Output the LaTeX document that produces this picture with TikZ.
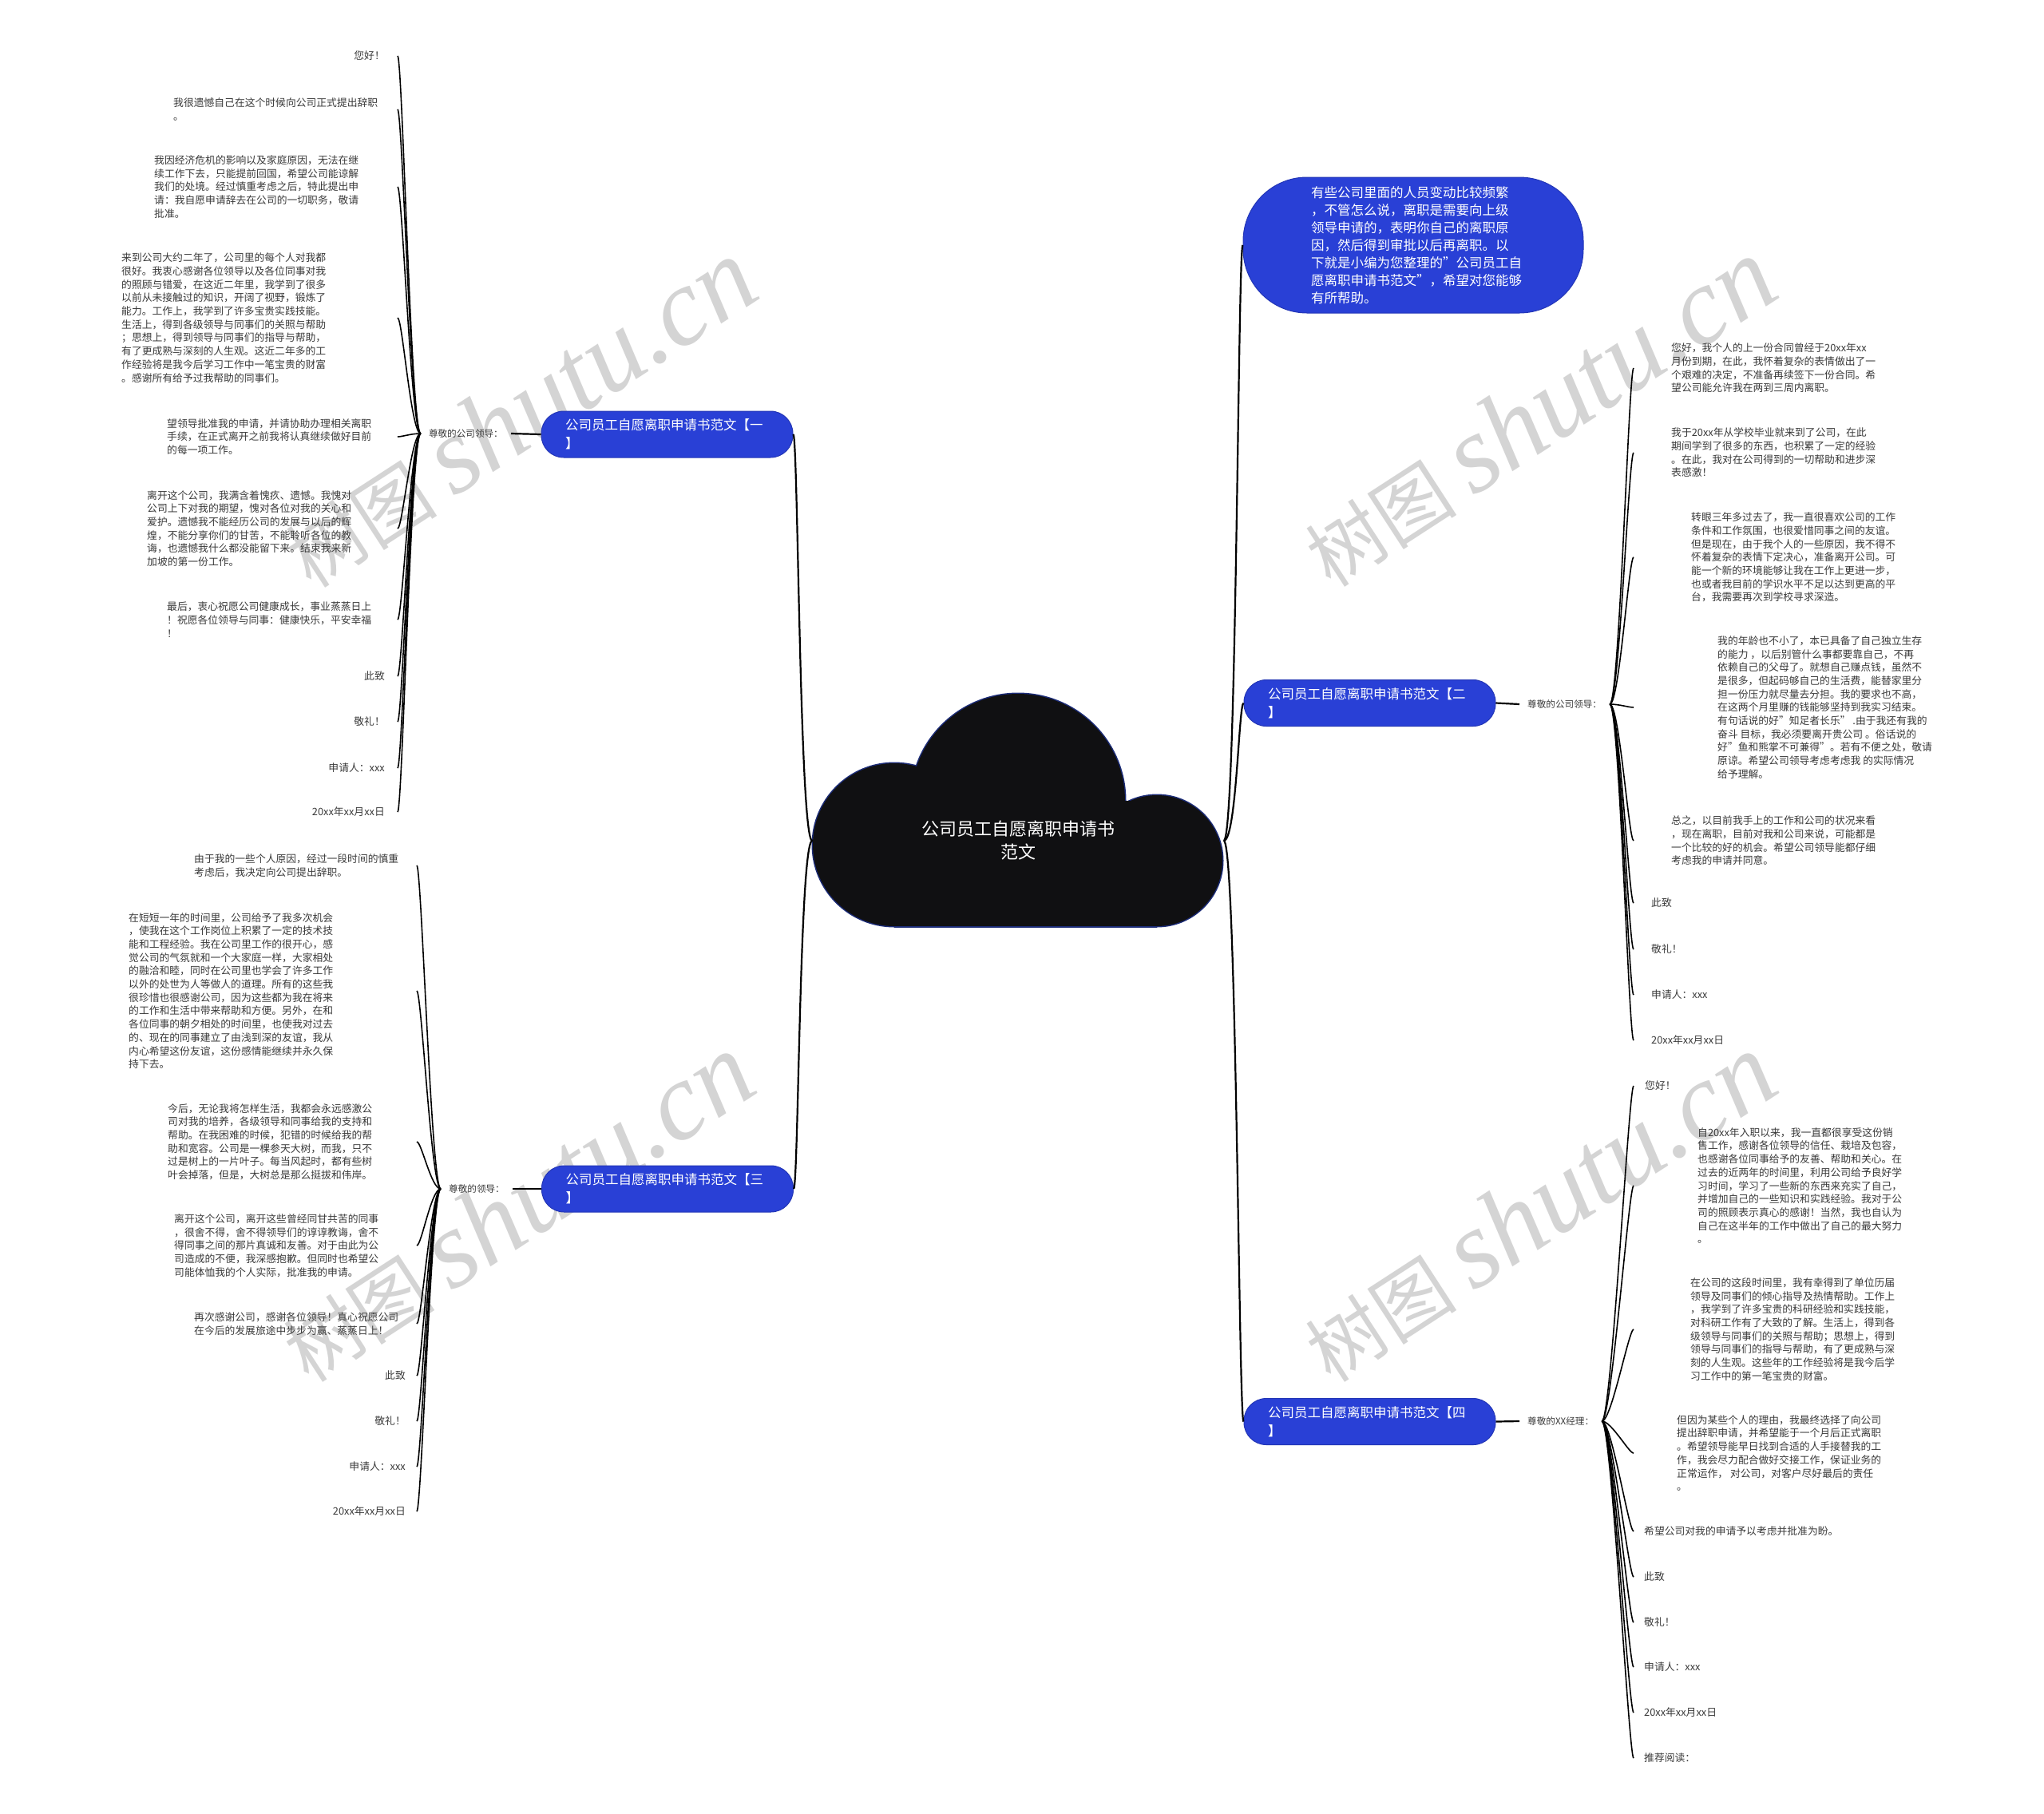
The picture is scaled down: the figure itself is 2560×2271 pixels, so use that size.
\documentclass[tikz,border=0pt]{standalone}
\usepackage{fontspec}
\setmainfont{Noto Sans CJK SC}
\newfontfamily\marklatin{Liberation Serif}
\usetikzlibrary{calc}
\definecolor{pillblue}{HTML}{2940D6}
\definecolor{cloudblack}{HTML}{101012}
\definecolor{cloudedge}{HTML}{1C2C78}
\definecolor{leafgray}{HTML}{3A3A3A}
\definecolor{markgray}{HTML}{D4D4D4}

\begin{document}
\begin{tikzpicture}[x=1pt,y=-1pt,
  pill/.style={rounded corners=28pt, fill=pillblue, draw=pillblue!85!black, line width=1pt, text=white, minimum width=315pt, minimum height=58pt, text width=255pt, inner xsep=30pt, align=left, font=\fontsize{16.5}{23}\selectfont},
  bubble/.style={pill, rounded corners=80pt, minimum width=426pt, minimum height=170pt, text width=256pt, inner xsep=85pt, font=\fontsize{16.5}{22}\selectfont},
  leaf/.style={anchor=west, inner sep=0pt, align=left, text=leafgray, font=\fontsize{12.8}{16.7}\selectfont},
  tag/.style={inner xsep=10pt, inner ysep=2pt, text=leafgray, font=\fontsize{11.6}{14}\selectfont},
  trunk/.style={line width=2.2pt},
  link/.style={line width=1.6pt},
  wmark/.style={text=markgray, rotate=33, inner sep=0pt}]
\useasboundingbox (0,0) rectangle (2560,2271);
\fill[white] (0,0) rectangle (2560,2271);

% watermarks
\node[wmark] (wm1) at (650,518) {\fontsize{95}{95}\selectfont 树图 {\marklatin\itshape\fontsize{138}{138}\selectfont shutu.cn}};
\node[wmark] (wm2) at (1927,517) {\fontsize{95}{95}\selectfont 树图 {\marklatin\itshape\fontsize{138}{138}\selectfont shutu.cn}};
\node[wmark] (wm3) at (647,1513) {\fontsize{95}{95}\selectfont 树图 {\marklatin\itshape\fontsize{138}{138}\selectfont shutu.cn}};
\node[wmark] (wm4) at (1927,1513) {\fontsize{95}{95}\selectfont 树图 {\marklatin\itshape\fontsize{138}{138}\selectfont shutu.cn}};

% cloud
\fill[cloudedge] (1275,1003) circle (135.5pt);
\fill[cloudedge] (1120,1058) circle (103.5pt);
\fill[cloudedge] (1449,1078) circle (83.5pt);
\fill[cloudedge] (1120,1003) rectangle (1449,1161.5);
\fill[cloudblack] (1275,1003) circle (134pt);
\fill[cloudblack] (1120,1058) circle (102pt);
\fill[cloudblack] (1449,1078) circle (82pt);
\fill[cloudblack] (1120,1003) rectangle (1449,1160);
\node[text=white, minimum width=515pt, align=center, font=\fontsize{22}{29}\selectfont] (root) at (1275,1053) {公司员工自愿离职申请书\\范文};

% branches
\node[bubble] (intro) at (1770,307) {有些公司里面的人员变动比较频繁\\，不管怎么说，离职是需要向上级\\领导申请的，表明你自己的离职原\\因，然后得到审批以后再离职。以\\下就是小编为您整理的"公司员工自\\愿离职申请书范文"，希望对您能够\\有所帮助。};
\node[pill] (b1) at (835.5,544) {公司员工自愿离职申请书范文【一\\】};
\node[pill] (b3) at (836,1489) {公司员工自愿离职申请书范文【三\\】};
\node[pill] (b2) at (1715.5,880.5) {公司员工自愿离职申请书范文【二\\】};
\node[pill] (b4) at (1715.5,1780.5) {公司员工自愿离职申请书范文【四\\】};

\node[tag, anchor=east] (t1) at (640,543) {尊敬的公司领导：};
\node[tag, anchor=east] (t3) at (642,1489) {尊敬的领导：};
\node[tag, anchor=west] (t2) at (1903,882) {尊敬的公司领导：};
\node[tag, anchor=west] (t4) at (1903,1780) {尊敬的XX经理：};

\coordinate (bar1) at (498,0);
\coordinate (bar3) at (522,0);
\coordinate (bar2) at (2046,0);
\coordinate (bar4) at (2046,0);

% letter one
\node[leaf, anchor=east] (l1a) at (482,70) {您好！};
\node[leaf] (l1b) at (217,137) {我很遗憾自己在这个时候向公司正式提出辞职\\。};
\node[leaf] (l1c) at (193,234) {我因经济危机的影响以及家庭原因，无法在继\\续工作下去，只能提前回国，希望公司能谅解\\我们的处境。经过慎重考虑之后，特此提出申\\请：我自愿申请辞去在公司的一切职务，敬请\\批准。};
\node[leaf] (l1d) at (152,398) {来到公司大约二年了，公司里的每个人对我都\\很好。我衷心感谢各位领导以及各位同事对我\\的照顾与错爱，在这近二年里，我学到了很多\\以前从未接触过的知识，开阔了视野，锻炼了\\能力。工作上，我学到了许多宝贵实践技能。\\生活上，得到各级领导与同事们的关照与帮助\\；思想上，得到领导与同事们的指导与帮助，\\有了更成熟与深刻的人生观。这近二年多的工\\作经验将是我今后学习工作中一笔宝贵的财富\\。感谢所有给予过我帮助的同事们。};
\node[leaf] (l1e) at (209,547) {望领导批准我的申请，并请协助办理相关离职\\手续，在正式离开之前我将认真继续做好目前\\的每一项工作。};
\node[leaf] (l1f) at (184,662) {离开这个公司，我满含着愧疚、遗憾。我愧对\\公司上下对我的期望，愧对各位对我的关心和\\爱护。遗憾我不能经历公司的发展与以后的辉\\煌，不能分享你们的甘苦，不能聆听各位的教\\诲，也遗憾我什么都没能留下来。结束我来新\\加坡的第一份工作。};
\node[leaf] (l1g) at (209,776) {最后，衷心祝愿公司健康成长，事业蒸蒸日上\\！祝愿各位领导与同事：健康快乐，平安幸福\\！};
\node[leaf, anchor=east] (l1h) at (482,847) {此致};
\node[leaf, anchor=east] (l1i) at (482,904) {敬礼！};
\node[leaf, anchor=east] (l1j) at (482,962) {申请人：xxx};
\node[leaf, anchor=east] (l1k) at (482,1017) {20xx年xx月xx日};

% letter three
\node[leaf] (l3a) at (243,1084) {由于我的一些个人原因，经过一段时间的慎重\\考虑后，我决定向公司提出辞职。};
\node[leaf] (l3b) at (161,1241) {在短短一年的时间里，公司给予了我多次机会\\，使我在这个工作岗位上积累了一定的技术技\\能和工程经验。我在公司里工作的很开心，感\\觉公司的气氛就和一个大家庭一样，大家相处\\的融洽和睦，同时在公司里也学会了许多工作\\以外的处世为人等做人的道理。所有的这些我\\很珍惜也很感谢公司，因为这些都为我在将来\\的工作和生活中带来帮助和方便。另外，在和\\各位同事的朝夕相处的时间里，也使我对过去\\的、现在的同事建立了由浅到深的友谊，我从\\内心希望这份友谊，这份感情能继续并永久保\\持下去。};
\node[leaf] (l3c) at (210,1430) {今后，无论我将怎样生活，我都会永远感激公\\司对我的培养，各级领导和同事给我的支持和\\帮助。在我困难的时候，犯错的时候给我的帮\\助和宽容。公司是一棵参天大树，而我，只不\\过是树上的一片叶子。每当风起时，都有些树\\叶会掉落，但是，大树总是那么挺拔和伟岸。};
\node[leaf] (l3d) at (218,1560) {离开这个公司，离开这些曾经同甘共苦的同事\\，很舍不得，舍不得领导们的谆谆教诲，舍不\\得同事之间的那片真诚和友善。对于由此为公\\司造成的不便，我深感抱歉。但同时也希望公\\司能体恤我的个人实际，批准我的申请。};
\node[leaf] (l3e) at (243,1658) {再次感谢公司，感谢各位领导！真心祝愿公司\\在今后的发展旅途中步步为赢、蒸蒸日上！};
\node[leaf, anchor=east] (l3f) at (508,1723) {此致};
\node[leaf, anchor=east] (l3g) at (508,1780) {敬礼！};
\node[leaf, anchor=east] (l3h) at (508,1837) {申请人：xxx};
\node[leaf, anchor=east] (l3i) at (508,1893) {20xx年xx月xx日};

% letter two
\node[leaf] (r2a) at (2093,461) {您好，我个人的上一份合同曾经于20xx年xx\\月份到期，在此，我怀着复杂的表情做出了一\\个艰难的决定，不准备再续签下一份合同。希\\望公司能允许我在两到三周内离职。};
\node[leaf] (r2b) at (2093,567) {我于20xx年从学校毕业就来到了公司，在此\\期间学到了很多的东西，也积累了一定的经验\\。在此，我对在公司得到的一切帮助和进步深\\表感激！};
\node[leaf] (r2c) at (2118,698) {转眼三年多过去了，我一直很喜欢公司的工作\\条件和工作氛围，也很爱惜同事之间的友谊。\\但是现在，由于我个人的一些原因，我不得不\\怀着复杂的表情下定决心，准备离开公司。可\\能一个新的环境能够让我在工作上更进一步，\\也或者我目前的学识水平不足以达到更高的平\\台，我需要再次到学校寻求深造。};
\node[leaf] (r2d) at (2151,886) {我的年龄也不小了，本已具备了自己独立生存\\的能力 ，以后别管什么事都要靠自己，不再\\依赖自己的父母了。就想自己赚点钱，虽然不\\是很多，但起码够自己的生活费，能替家里分\\担一份压力就尽量去分担。我的要求也不高，\\在这两个月里赚的钱能够坚持到我实习结束。\\有句话说的好"知足者长乐" .由于我还有我的\\奋斗 目标，我必须要离开贵公司 。俗话说的\\好"鱼和熊掌不可兼得"。若有不便之处，敬请\\原谅。希望公司领导考虑考虑我 的实际情况\\给予理解。};
\node[leaf] (r2e) at (2093,1053) {总之，以目前我手上的工作和公司的状况来看\\，现在离职，目前对我和公司来说，可能都是\\一个比较的好的机会。希望公司领导能都仔细\\考虑我的申请并同意。};
\node[leaf] (r2f) at (2068,1131) {此致};
\node[leaf] (r2g) at (2068,1189) {敬礼！};
\node[leaf] (r2h) at (2068,1246) {申请人：xxx};
\node[leaf] (r2i) at (2068,1303) {20xx年xx月xx日};

% letter four
\node[leaf] (r4a) at (2060,1360) {您好！};
\node[leaf] (r4b) at (2126,1485) {自20xx年入职以来，我一直都很享受这份销\\售工作，感谢各位领导的信任、栽培及包容，\\也感谢各位同事给予的友善、帮助和关心。在\\过去的近两年的时间里，利用公司给予良好学\\习时间，学习了一些新的东西来充实了自己，\\并增加自己的一些知识和实践经验。我对于公\\司的照顾表示真心的感谢！当然，我也自认为\\自己在这半年的工作中做出了自己的最大努力\\。};
\node[leaf] (r4c) at (2117,1665) {在公司的这段时间里，我有幸得到了单位历届\\领导及同事们的倾心指导及热情帮助。工作上\\，我学到了许多宝贵的科研经验和实践技能，\\对科研工作有了大致的了解。生活上，得到各\\级领导与同事们的关照与帮助；思想上，得到\\领导与同事们的指导与帮助，有了更成熟与深\\刻的人生观。这些年的工作经验将是我今后学\\习工作中的第一笔宝贵的财富。};
\node[leaf] (r4d) at (2100,1820) {但因为某些个人的理由，我最终选择了向公司\\提出辞职申请，并希望能于一个月后正式离职\\。希望领导能早日找到合适的人手接替我的工\\作，我会尽力配合做好交接工作，保证业务的\\正常运作， 对公司，对客户尽好最后的责任\\。};
\node[leaf] (r4e) at (2059,1918) {希望公司对我的申请予以考虑并批准为盼。};
\node[leaf] (r4f) at (2059,1975) {此致};
\node[leaf] (r4g) at (2059,2032) {敬礼！};
\node[leaf] (r4h) at (2059,2088) {申请人：xxx};
\node[leaf] (r4i) at (2059,2145) {20xx年xx月xx日};
\node[leaf] (r4j) at (2059,2202) {推荐阅读：};

% trunk lines
\draw[trunk] (root.west) .. controls +(-16,0) and +(6,0) .. (b1.east);
\draw[trunk] (root.west) .. controls +(-16,0) and +(6,0) .. (b3.east);
\draw[trunk] (root.east) .. controls +(16,0) and +(-6,0) .. (intro.west);
\draw[trunk] (root.east) .. controls +(16,0) and +(-6,0) .. (b2.west);
\draw[trunk] (root.east) .. controls +(16,0) and +(-6,0) .. (b4.west);
\draw[trunk] (b1.west) -- (t1.east);
\draw[trunk] (b3.west) -- (t3.east);
\draw[trunk] (b2.east) -- (t2.west);
\draw[trunk] (b4.east) -- (t4.west);

% leaf lines
\foreach \n in {l1a,l1b,l1c,l1d,l1e,l1f,l1g,l1h,l1i,l1j,l1k}
  \draw[link] (t1.west) .. controls +(-12,0) and +(6,0) .. (\n.east -| bar1);
\foreach \n in {l3a,l3b,l3c,l3d,l3e,l3f,l3g,l3h,l3i}
  \draw[link] (t3.west) .. controls +(-12,0) and +(6,0) .. (\n.east -| bar3);
\foreach \n in {r2a,r2b,r2c,r2d,r2e,r2f,r2g,r2h,r2i}
  \draw[link] (t2.east) .. controls +(12,0) and +(-6,0) .. (\n.west -| bar2);
\foreach \n in {r4a,r4b,r4c,r4d,r4e,r4f,r4g,r4h,r4i,r4j}
  \draw[link] (t4.east) .. controls +(12,0) and +(-6,0) .. (\n.west -| bar4);
\end{tikzpicture}
\end{document}
